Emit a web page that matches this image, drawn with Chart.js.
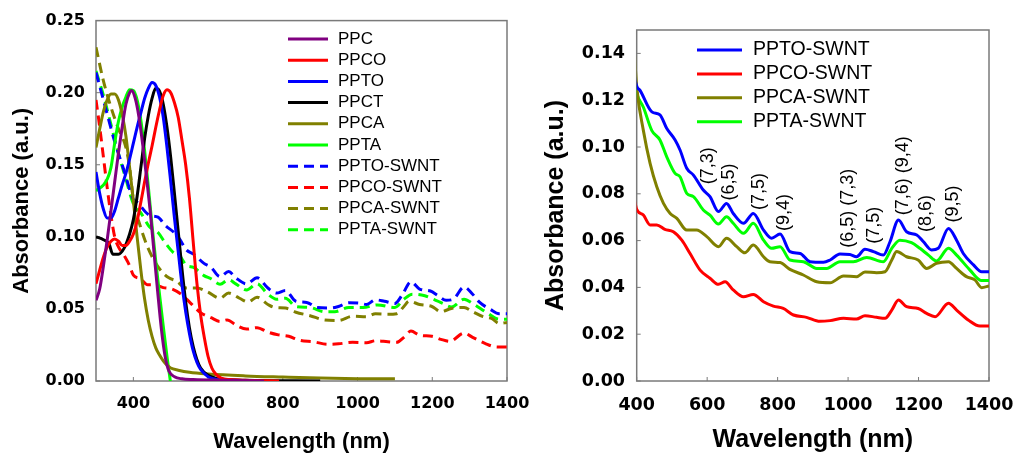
<!DOCTYPE html>
<html>
<head>
<meta charset="utf-8">
<script src="https://cdn.jsdelivr.net/npm/chart.js@4"></script>
<style>
  body { margin: 0; background: #fff; }
  #wrap { position: relative; width: 1015px; height: 453px; overflow: hidden; }
  canvas { position: absolute; top: 0; }
  #leftChart { left: 0; }
  #rightChart { left: 520px; }
</style>
</head>
<body>
<div id="wrap">
  <canvas id="leftChart" width="560" height="453"></canvas>
  <canvas id="rightChart" width="520" height="453"></canvas>
</div>
<script>
// ---- data ----
const leftXTicks = [400, 600, 800, 1000, 1200, 1400];
const leftYTicks = [0, 0.05, 0.10, 0.15, 0.20, 0.25];
const rightXTicks = [400, 600, 800, 1000, 1200, 1400];
const rightYTicks = [0, 0.02, 0.04, 0.06, 0.08, 0.10, 0.12, 0.14];

const ppcNm = [300, 310, 320, 330, 340, 350, 360, 370, 380, 390, 395, 405, 415, 425, 435, 445, 455, 465, 475, 485, 495, 510, 530, 560, 650, 750];
const ppcAbs = [0.056, 0.064, 0.08, 0.098, 0.118, 0.138, 0.158, 0.176, 0.192, 0.2, 0.2015, 0.196, 0.183, 0.164, 0.142, 0.118, 0.09, 0.062, 0.036, 0.017, 0.007, 0.003, 0.0015, 0.001, 0.0005, 0];

const ppcoNm = [300, 310, 320, 330, 340, 350, 360, 370, 380, 390, 400, 410, 420, 430, 440, 450, 460, 470, 480, 490, 500, 510, 520, 530, 540, 550, 560, 570, 580, 590, 600, 610, 620, 635, 660, 700, 790];
const ppcoAbs = [0.0675, 0.077, 0.086, 0.093, 0.097, 0.0985, 0.097, 0.094, 0.094, 0.097, 0.102, 0.111, 0.124, 0.138, 0.151, 0.163, 0.176, 0.188, 0.198, 0.202, 0.2, 0.193, 0.183, 0.167, 0.15, 0.127, 0.097, 0.068, 0.046, 0.03, 0.017, 0.009, 0.005, 0.002, 0.001, 0.0005, 0];

const pptoNm = [300, 310, 320, 330, 340, 350, 360, 370, 380, 390, 400, 410, 420, 430, 440, 450, 460, 470, 480, 490, 500, 510, 520, 530, 540, 550, 560, 570, 580, 600, 620, 660, 720];
const pptoAbs = [0.145, 0.13, 0.119, 0.113, 0.113, 0.118, 0.127, 0.136, 0.144, 0.154, 0.165, 0.176, 0.186, 0.196, 0.203, 0.207, 0.205, 0.197, 0.183, 0.162, 0.138, 0.113, 0.09, 0.067, 0.048, 0.033, 0.021, 0.013, 0.008, 0.003, 0.0012, 0.0005, 0];

const ppctNm = [300, 320, 335, 345, 360, 375, 390, 400, 410, 420, 430, 440, 450, 460, 470, 480, 490, 500, 510, 520, 530, 540, 550, 560, 570, 580, 600, 620, 650, 700, 900];
const ppctAbs = [0.1, 0.098, 0.095, 0.088, 0.088, 0.092, 0.102, 0.112, 0.128, 0.148, 0.168, 0.184, 0.196, 0.203, 0.201, 0.192, 0.176, 0.155, 0.13, 0.104, 0.078, 0.055, 0.037, 0.024, 0.015, 0.009, 0.004, 0.002, 0.001, 0.0005, 0];

const ppcaNm = [300, 310, 320, 330, 340, 350, 360, 370, 380, 390, 400, 410, 420, 430, 440, 450, 460, 470, 480, 490, 500, 520, 550, 600, 700, 800, 900, 1000, 1050, 1100];
const ppcaAbs = [0.162, 0.175, 0.187, 0.195, 0.199, 0.199, 0.195, 0.185, 0.17, 0.148, 0.125, 0.1, 0.077, 0.057, 0.042, 0.031, 0.023, 0.018, 0.014, 0.011, 0.009, 0.0075, 0.006, 0.0048, 0.0035, 0.0027, 0.002, 0.0016, 0.0015, 0.0015];

const pptaNm = [300, 320, 330, 340, 350, 360, 370, 380, 390, 400, 410, 420, 430, 440, 450, 460, 470, 480, 490, 499];
const pptaAbs = [0.132, 0.136, 0.14, 0.148, 0.165, 0.18, 0.19, 0.197, 0.202, 0.2015, 0.195, 0.181, 0.16, 0.135, 0.108, 0.083, 0.06, 0.038, 0.017, 0];

const pptoSwntNm = [300, 325, 350, 375, 400, 409, 443, 466, 485, 509, 523, 542, 561, 589, 608, 632, 655, 674, 703, 731, 760, 783, 807, 835, 864, 892, 930, 949, 977, 1005, 1024, 1048, 1072, 1100, 1119, 1143, 1166, 1195, 1214, 1237, 1256, 1285, 1308, 1327, 1356, 1379, 1400];
const pptoSwntAbs = [0.214, 0.19, 0.166, 0.146, 0.126, 0.1243, 0.115, 0.1137, 0.108, 0.103, 0.0987, 0.0909, 0.088, 0.0816, 0.0788, 0.0724, 0.0759, 0.0716, 0.0674, 0.0716, 0.0645, 0.061, 0.0628, 0.0553, 0.0545, 0.051, 0.0507, 0.0517, 0.0543, 0.0541, 0.0531, 0.0563, 0.0553, 0.0538, 0.0595, 0.0688, 0.0638, 0.0624, 0.0595, 0.056, 0.0567, 0.0652, 0.0602, 0.0545, 0.0496, 0.0467, 0.0467];

const ppcoSwntNm = [300, 310, 320, 330, 340, 350, 360, 370, 380, 390, 400, 419, 438, 457, 480, 504, 528, 551, 580, 608, 632, 651, 674, 703, 731, 760, 788, 816, 845, 882, 920, 949, 987, 1024, 1048, 1081, 1105, 1124, 1143, 1166, 1199, 1223, 1247, 1285, 1308, 1341, 1374, 1400];
const ppcoSwntAbs = [0.195, 0.176, 0.155, 0.134, 0.115, 0.1, 0.093, 0.089, 0.085, 0.08, 0.0734, 0.0709, 0.0667, 0.0667, 0.0648, 0.0638, 0.0602, 0.0546, 0.0474, 0.0439, 0.0413, 0.0424, 0.0389, 0.036, 0.037, 0.0339, 0.032, 0.031, 0.0282, 0.0272, 0.0255, 0.0258, 0.0268, 0.0265, 0.0279, 0.0272, 0.0268, 0.0303, 0.0346, 0.0318, 0.031, 0.0289, 0.0275, 0.0332, 0.0303, 0.0261, 0.0235, 0.0235];

const ppcaSwntNm = [300, 320, 340, 360, 380, 390, 400, 419, 438, 457, 476, 495, 514, 542, 570, 599, 632, 655, 684, 707, 731, 760, 778, 807, 835, 873, 911, 949, 987, 1024, 1048, 1081, 1105, 1124, 1138, 1166, 1199, 1223, 1251, 1285, 1308, 1336, 1360, 1379, 1400];
const ppcaSwntAbs = [0.2315, 0.208, 0.19, 0.175, 0.162, 0.148, 0.1258, 0.107, 0.093, 0.083, 0.0759, 0.0716, 0.0695, 0.0645, 0.0645, 0.0617, 0.0574, 0.061, 0.0574, 0.0548, 0.0581, 0.0531, 0.051, 0.0506, 0.0477, 0.0453, 0.0424, 0.042, 0.0449, 0.0446, 0.0466, 0.0463, 0.0467, 0.0517, 0.0553, 0.0531, 0.0517, 0.0481, 0.0503, 0.051, 0.0481, 0.0446, 0.0432, 0.0399, 0.0406];

const pptaSwntNm = [300, 320, 340, 360, 380, 400, 419, 443, 466, 485, 509, 523, 542, 561, 589, 608, 632, 655, 674, 703, 731, 760, 783, 807, 835, 873, 911, 939, 977, 1015, 1053, 1100, 1124, 1147, 1180, 1204, 1228, 1251, 1285, 1308, 1346, 1379, 1400];
const pptaSwntAbs = [0.215, 0.198, 0.178, 0.158, 0.14, 0.123, 0.117, 0.107, 0.103, 0.0959, 0.0887, 0.0873, 0.0802, 0.0788, 0.0731, 0.0709, 0.0671, 0.0702, 0.0674, 0.0631, 0.0674, 0.0602, 0.0567, 0.0574, 0.0517, 0.051, 0.0481, 0.0481, 0.051, 0.051, 0.0528, 0.051, 0.0567, 0.0602, 0.0591, 0.0567, 0.0538, 0.0513, 0.0567, 0.0538, 0.0474, 0.0429, 0.0429];

// chirality labels on the right panel (text, wavelength, absorbance at label centre)
const peakLabels = ['(7,3)', '(6,5)', '(7,5)', '(9,4)', '(6,5) (7,3)', '(7,5)', '(7,6) (9,4)', '(8,6)', '(9,5)'];
const peakLabelNm = [603, 662, 747, 818, 1001, 1074, 1157, 1220, 1299];
const peakLabelAbs = [0.092, 0.085, 0.081, 0.072, 0.0738, 0.0666, 0.0877, 0.0716, 0.0756];

// ---- helpers ----
function pts(nm, abs) {
    return nm.map((x, i) => ({ x: x, y: abs[i] }));
}

function line(label, nm, abs, color, dash) {
    return {
        label: label,
        data: pts(nm, abs),
        borderColor: color,
        backgroundColor: color,
        borderWidth: 3,
        borderDash: dash || [],
        pointRadius: 0,
        fill: false,
        cubicInterpolationMode: 'monotone'
    };
}

const DASH = [10, 6];

// frame + inward ticks, own legend, peak labels
const extras = {
    id: 'extras',
    beforeDatasetsDraw(chart) {
        const { ctx, chartArea: a, scales } = chart;
        ctx.save();
        ctx.strokeStyle = '#7a7a7a';
        ctx.lineWidth = 1.5;
        ctx.strokeRect(a.left, a.top, a.right - a.left, a.bottom - a.top);
        ctx.beginPath();
        scales.x.ticks.forEach(t => {
            const px = scales.x.getPixelForValue(t.value);
            ctx.moveTo(px, a.bottom);
            ctx.lineTo(px, a.bottom - 4);
        });
        scales.y.ticks.forEach(t => {
            const py = scales.y.getPixelForValue(t.value);
            ctx.moveTo(a.left, py);
            ctx.lineTo(a.left + 4, py);
        });
        ctx.lineWidth = 1;
        ctx.stroke();
        ctx.restore();
    },
    afterDraw(chart, args, opts) {
        const { ctx } = chart;
        ctx.save();
        if (opts.legend) {
            const lg = opts.legend;
            ctx.font = lg.size + 'px "Liberation Sans", Arial, sans-serif';
            ctx.textBaseline = 'middle';
            ctx.textAlign = 'left';
            chart.data.datasets.forEach((ds, i) => {
                const y = lg.y + i * lg.dy;
                ctx.strokeStyle = ds.borderColor;
                ctx.lineWidth = 3;
                ctx.setLineDash(ds.borderDash || []);
                ctx.beginPath();
                ctx.moveTo(lg.x, y);
                ctx.lineTo(lg.x + lg.len, y);
                ctx.stroke();
                ctx.setLineDash([]);
                ctx.fillStyle = '#000';
                ctx.fillText(ds.label, lg.x + lg.len + lg.gap, y);
            });
        }
        if (opts.peaks) {
            const { x, y } = chart.scales;
            ctx.font = '18px "Liberation Sans", Arial, sans-serif';
            ctx.fillStyle = '#000';
            ctx.textAlign = 'center';
            ctx.textBaseline = 'middle';
            peakLabels.forEach((txt, i) => {
                ctx.save();
                ctx.translate(x.getPixelForValue(peakLabelNm[i]), y.getPixelForValue(peakLabelAbs[i]));
                ctx.rotate(-Math.PI / 2);
                ctx.fillText(txt, 0, 0);
                ctx.restore();
            });
        }
        ctx.restore();
    }
};

function axes(cfg) {
    return {
        x: {
            type: 'linear', min: cfg.xMin, max: cfg.xMax,
            afterBuildTicks: s => { s.ticks = cfg.xTicks.map(v => ({ value: v })); },
            afterFit: s => { s.height = cfg.xHeight; },
            grid: { display: false, drawTicks: false },
            border: { display: false },
            ticks: {
                color: '#000', padding: cfg.xPad, maxRotation: 0, autoSkip: false,
                font: { family: 'DejaVu Sans', weight: 'bold', size: cfg.tickSize },
                callback: v => String(v)
            },
            title: {
                display: true, text: 'Wavelength (nm)', color: '#000',
                font: { family: 'Liberation Sans', weight: 'bold', size: cfg.titleSize, lineHeight: 1 },
                padding: { top: 0, bottom: cfg.xTitlePad }
            }
        },
        y: {
            type: 'linear', min: 0, max: cfg.yMax,
            afterBuildTicks: s => { s.ticks = cfg.yTicks.map(v => ({ value: v })); },
            afterFit: s => { s.width = cfg.yWidth; },
            grid: { display: false, drawTicks: false },
            border: { display: false },
            ticks: {
                color: '#000', padding: cfg.yPad,
                font: { family: 'DejaVu Sans', weight: 'bold', size: cfg.tickSize },
                callback: v => Number(v).toFixed(2)
            },
            title: {
                display: true, text: 'Absorbance (a.u.)', color: '#000',
                font: { family: 'Liberation Sans', weight: 'bold', size: cfg.titleSize, lineHeight: 1 },
                padding: { top: cfg.yTitlePad, bottom: 0 }
            }
        }
    };
}

// ---- left panel ----
new Chart(document.getElementById('leftChart').getContext('2d'), {
    type: 'line',
    data: {
        datasets: [
            line('PPC', ppcNm, ppcAbs, '#800080'),
            line('PPCO', ppcoNm, ppcoAbs, '#ff0000'),
            line('PPTO', pptoNm, pptoAbs, '#0000ff'),
            line('PPCT', ppctNm, ppctAbs, '#000000'),
            line('PPCA', ppcaNm, ppcaAbs, '#808000'),
            line('PPTA', pptaNm, pptaAbs, '#00ff00'),
            line('PPTO-SWNT', pptoSwntNm, pptoSwntAbs, '#0000ff', DASH),
            line('PPCO-SWNT', ppcoSwntNm, ppcoSwntAbs, '#ff0000', DASH),
            line('PPCA-SWNT', ppcaSwntNm, ppcaSwntAbs, '#808000', DASH),
            line('PPTA-SWNT', pptaSwntNm, pptaSwntAbs, '#00ff00', DASH)
        ]
    },
    options: {
        responsive: false,
        animation: false,
        layout: { padding: { left: 0, top: 20, right: 53, bottom: 0 } },
        plugins: {
            legend: { display: false },
            tooltip: { enabled: false },
            extras: { legend: { x: 288, y: 39, dy: 21.2, len: 40, gap: 10, size: 17 } }
        },
        scales: axes({
            xMin: 300, xMax: 1400, xTicks: leftXTicks, yMax: 0.25, yTicks: leftYTicks,
            xHeight: 72, yWidth: 96, tickSize: 16, titleSize: 22,
            xPad: 13, yPad: 11, xTitlePad: 0.5, yTitlePad: 11
        })
    },
    plugins: [extras]
});

// ---- right panel ----
new Chart(document.getElementById('rightChart').getContext('2d'), {
    type: 'line',
    data: {
        datasets: [
            line('PPTO-SWNT', pptoSwntNm, pptoSwntAbs, '#0000ff'),
            line('PPCO-SWNT', ppcoSwntNm, ppcoSwntAbs, '#ff0000'),
            line('PPCA-SWNT', ppcaSwntNm, ppcaSwntAbs, '#808000'),
            line('PPTA-SWNT', pptaSwntNm, pptaSwntAbs, '#00ff00')
        ]
    },
    options: {
        responsive: false,
        animation: false,
        layout: { padding: { left: 0, top: 30, right: 51, bottom: 0 } },
        plugins: {
            legend: { display: false },
            tooltip: { enabled: false },
            extras: { legend: { x: 177, y: 50, dy: 23.9, len: 45, gap: 11, size: 19.5 }, peaks: true }
        },
        scales: axes({
            xMin: 400, xMax: 1400, xTicks: rightXTicks, yMax: 0.15, yTicks: rightYTicks,
            xHeight: 72, yWidth: 116.7, tickSize: 17.5, titleSize: 25,
            xPad: 14, yPad: 11.7, xTitlePad: 0.5, yTitlePad: 23.5
        })
    },
    plugins: [extras]
});
</script>
</body>
</html>
